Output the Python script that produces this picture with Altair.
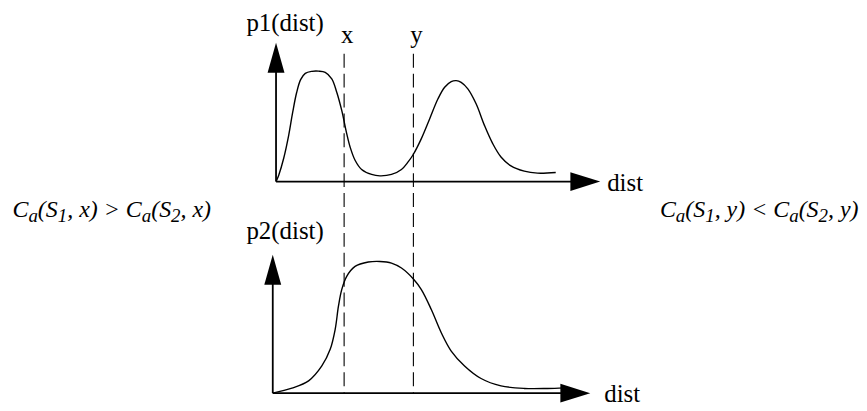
import altair as alt
import pandas as pd

# ---- data (distance from panel origin, curve height), px units ----
p1_dist = [0, 2.7, 7.7, 12.7, 16.7, 20.7, 24.7, 29.4, 36, 42.7, 49.4, 56, 61, 66, 71, 74.4, 79.4, 86, 96,
           104.4, 116, 126, 132.7, 138, 146, 154.4, 162.7, 169.4, 176, 181, 186, 192.7, 201, 209.4, 217.7,
           226, 236, 249.4, 262.7, 281]
p1_val = [0, 6.5, 23.5, 46.5, 69.5, 89.5, 102.5, 108.8, 110.8, 111, 109.8, 103.2, 89.8, 71.5, 48.2, 34.8,
          21.5, 12.2, 7.2, 5.8, 7.2, 12.2, 19.8, 27.5, 43.2, 63.2, 83.2, 94.8, 100.5, 101.5, 99.8, 93.2,
          78.2, 56.5, 38.2, 24.8, 15.8, 10.5, 8.5, 9.2]

p2_dist = [0, 19.3, 36, 49.3, 57.7, 62.7, 66, 69.3, 74.3, 82.7, 96, 107.7, 119.3, 129.3, 141.3, 149.3,
           159.3, 169.3, 179.3, 192.7, 209.3, 229.3, 252.7, 276, 292.7]
p2_val = [0, 5, 12.3, 27.3, 44, 64, 87.3, 104, 117.3, 127.3, 131.7, 132.3, 130.7, 125.7, 114.7, 104,
          84, 60.7, 42.3, 27.3, 14.7, 7.3, 4.7, 4.7, 5.3]

axis_titles = ["p1(dist)", "p2(dist)"]
x_axis_title = "dist"
marker_names = ["x", "y"]
marker_dist = [68.4, 138.0]          # positions on the top panel's dist axis

left_formula = [("C", 0), ("a", 1), ("(S", 0), ("1", 1), (", x) > C", 0), ("a", 1), ("(S", 0), ("2", 1), (", x)", 0)]
right_formula = [("C", 0), ("a", 1), ("(S", 0), ("1", 1), (", y) < C", 0), ("a", 1), ("(S", 0), ("2", 1), (", y)", 0)]

# ---- layout ----
FONT = "Liberation Serif"
LABEL_SIZE = 25
MAIN_SIZE = 24
SUB_SIZE = 19
TOP_O = (277.3, 181.5)
BOT_O = (274.0, 394.0)
TOP_TIPS = (325.7, 139.5)   # x-arrow tip, y-arrow tip (relative to origin)
BOT_TIPS = (319.0, 139.0)
ARROW_LEN = 30

panels = [(TOP_O, TOP_TIPS, p1_dist, p1_val, "p1"), (BOT_O, BOT_TIPS, p2_dist, p2_val, "p2")]

curve_rows, rule_rows, vhead_rows, hhead_rows = [], [], [], []
for (ox, oy), (tx, ty), ds, vs, name in panels:
    for d, v in zip(ds, vs):
        curve_rows.append({"series": name, "px": ox + d, "py": oy - v})
    # axis lines
    rule_rows.append({"px": ox, "py": oy, "px2": ox + tx - ARROW_LEN + 2, "py2": oy})
    rule_rows.append({"px": ox, "py": oy, "px2": ox, "py2": oy - ty + ARROW_LEN - 2})
    vhead_rows.append({"px": ox, "py": oy - ty + ARROW_LEN / 2})
    hhead_rows.append({"px": ox + tx - ARROW_LEN / 2, "py": oy})

curves = pd.DataFrame(curve_rows)
rules = pd.DataFrame(rule_rows)
vheads = pd.DataFrame(vhead_rows)
hheads = pd.DataFrame(hhead_rows)

DASH_TOP, DASH_BOT = 53, 394
dashes = pd.DataFrame({"px": [TOP_O[0] + m for m in marker_dist], "py": DASH_TOP, "py2": DASH_BOT})

labels = pd.DataFrame([
    {"px": 247.5, "py": 30, "t": axis_titles[0], "al": "left"},
    {"px": 247.5, "py": 239, "t": axis_titles[1], "al": "left"},
    {"px": 610, "py": 190.5, "t": x_axis_title, "al": "left"},
    {"px": 607, "py": 402.5, "t": x_axis_title, "al": "left"},
] + [{"px": TOP_O[0] + m + 3, "py": 42, "t": n, "al": "center"} for m, n in zip(marker_dist, marker_names)])

# Times italic advance widths (em)
W = {'C': 0.667, 'a': 0.5, '(': 0.333, 'S': 0.5, '1': 0.5, '2': 0.5, ',': 0.25, ' ': 0.25,
     'x': 0.444, 'y': 0.444, ')': 0.333, '>': 0.675, '<': 0.675}


def place(segments, x0, base):
    out, x = [], x0
    for txt, sub in segments:
        size = SUB_SIZE if sub else MAIN_SIZE
        out.append({"px": x, "py": base + (5 if sub else 0), "t": txt, "sub": sub})
        x += sum(W[c] for c in txt) * size
    return out


formula = pd.DataFrame(place(left_formula, 12.5, 217) + place(right_formula, 663, 217))

# ---- chart ----
XS = alt.Scale(domain=[8, 863], nice=False, zero=False)
YS = alt.Scale(domain=[8, 408], nice=False, zero=False, reverse=True)
X = alt.X("px:Q", scale=XS, axis=None)
Y = alt.Y("py:Q", scale=YS, axis=None)

curve_layer = alt.Chart(curves).mark_line(color="black", strokeWidth=1.4, interpolate="catmull-rom").encode(
    x=X, y=Y, detail="series:N")
axis_layer = alt.Chart(rules).mark_rule(color="black", strokeWidth=1.8).encode(
    x=X, y=Y, x2="px2:Q", y2="py2:Q")
vhead_layer = alt.Chart(vheads).mark_point(shape="M0,-1L0.567,1L-0.567,1Z", size=ARROW_LEN ** 2,
                                           filled=True, color="black", opacity=1, strokeWidth=0).encode(x=X, y=Y)
hhead_layer = alt.Chart(hheads).mark_point(shape="M1,0L-1,0.633L-1,-0.633Z", size=ARROW_LEN ** 2,
                                           filled=True, color="black", opacity=1, strokeWidth=0).encode(x=X, y=Y)
dash_layer = alt.Chart(dashes).mark_rule(color="black", strokeWidth=1.1, strokeDash=[14, 6]).encode(
    x=X, y=Y, y2="py2:Q")
label_left = alt.Chart(labels).transform_filter("datum.al == 'left'").mark_text(
    font=FONT, fontSize=LABEL_SIZE, align="left", baseline="alphabetic", color="black").encode(x=X, y=Y, text="t:N")
label_center = alt.Chart(labels).transform_filter("datum.al == 'center'").mark_text(
    font=FONT, fontSize=LABEL_SIZE, align="center", baseline="alphabetic", color="black").encode(x=X, y=Y, text="t:N")
main_text = alt.Chart(formula).transform_filter("datum.sub == 0").mark_text(
    font=FONT, fontSize=MAIN_SIZE, fontStyle="italic", align="left", baseline="alphabetic", color="black").encode(
    x=X, y=Y, text="t:N")
sub_text = alt.Chart(formula).transform_filter("datum.sub == 1").mark_text(
    font=FONT, fontSize=SUB_SIZE, fontStyle="italic", align="left", baseline="alphabetic", color="black").encode(
    x=X, y=Y, text="t:N")

chart = alt.layer(dash_layer, curve_layer, axis_layer, vhead_layer, hhead_layer,
                  label_left, label_center, main_text, sub_text).properties(
    width=855, height=400, padding=0, autosize=alt.AutoSizeParams(type="none"),
    background="white").configure_view(strokeWidth=0)

chart.save("out.html", embed_options={"renderer": "svg", "actions": False})
